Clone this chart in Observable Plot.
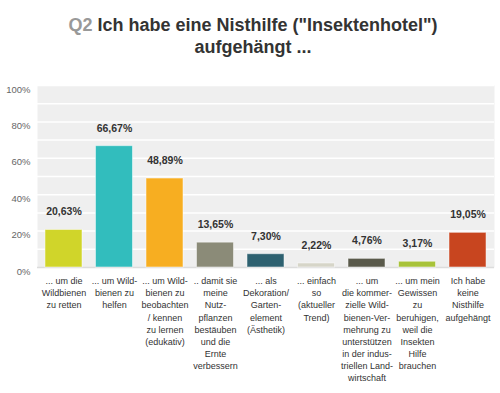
<!DOCTYPE html>
<html>
<head>
<meta charset="utf-8">
<script src="https://cdn.jsdelivr.net/npm/d3@7"></script>
<script src="https://cdn.jsdelivr.net/npm/@observablehq/plot@0.6"></script>
<style>
  body { margin: 0; background: #fff; font-family: "Liberation Sans", Arial, sans-serif; }
  #title { width: 500px; height: 75px; box-sizing: border-box; padding-top: 14px; padding-left: 6px;
    text-align: center; font-weight: bold; font-size: 18px; line-height: 22px; color: #333; }
  #title .q { color: #999; }
  svg { display: block; }
</style>
</head>
<body>
<div id="title"><span class="q">Q2</span> Ich habe eine Nisthilfe ("Insektenhotel")<br>aufgehängt ...</div>
<div id="chart"></div>
<script>
const categories = [
  "... um die\nWildbienen\nzu retten",
  "... um Wild-\nbienen zu\nhelfen",
  "... um Wild-\nbienen zu\nbeobachten\n/ kennen\nzu lernen\n(edukativ)",
  ".. damit sie\nmeine\nNutz-\npflanzen\nbestäuben\nund die\nErnte\nverbessern",
  "... als\nDekoration/\nGarten-\nelement\n(Ästhetik)",
  "... einfach\nso\n(aktueller\nTrend)",
  "... um\ndie kommer-\nzielle Wild-\nbienen-Ver-\nmehrung zu\nunterstützen\nin der indus-\ntriellen Land-\nwirtschaft",
  "... um mein\nGewissen\nzu\nberuhigen,\nweil die\nInsekten\nHilfe\nbrauchen",
  "Ich habe\nkeine\nNisthilfe\naufgehängt"
];
const values = [20.63, 66.67, 48.89, 13.65, 7.30, 2.22, 4.76, 3.17, 19.05];
const colors = ["#D0D52A", "#32BDBD", "#F7AE21", "#8B8B78", "#2E6170", "#D6D5C8", "#5A5A4B", "#A8C33A", "#C8451F"];
const yTicks = [0, 20, 40, 60, 80, 100];
const gridLines = [10, 20, 30, 40, 50, 60, 70, 80, 90, 100];

const data = categories.map((c, i) => ({ cat: c, value: values[i], color: colors[i] }));
const fmt = v => v.toFixed(2).replace(".", ",") + "%";

const chart = Plot.plot({
  width: 500,
  height: 318,
  marginTop: 10,
  marginBottom: 126,
  marginLeft: 37,
  marginRight: 6,
  style: { fontFamily: "'Liberation Sans', Arial, sans-serif", background: "white" },
  x: { domain: categories, paddingInner: 0.267, paddingOuter: 0.158, round: false, axis: null },
  y: { domain: [0, 100] },
  marks: [
    Plot.frame({ fill: "#efefef", stroke: null }),
    Plot.ruleY(gridLines, { stroke: "white", strokeWidth: 1.5 }),
    Plot.ruleY([0], { stroke: "#dcdcdc", strokeWidth: 1.5 }),
    Plot.ruleX([0], { x: () => null, frameAnchor: "left", stroke: "#dcdcdc", strokeWidth: 2 }),
    Plot.barY(data, { x: "cat", y: "value", fill: "color", stroke: "white", strokeOpacity: 0.5, strokeWidth: 1 }),
    Plot.text(data, { x: "cat", y: "value", text: d => fmt(d.value), dy: -18, fontSize: 10.5, fontWeight: "bold", fill: "#333" }),
    Plot.axisY({ ticks: yTicks, tickFormat: d => d + "%", tickSize: 0, tickPadding: 7, dy: 4, fontSize: 9.5, fill: "#666", label: null }),
    Plot.text(data, { x: "cat", text: "cat", frameAnchor: "bottom", lineAnchor: "top", dy: 8, fontSize: 9, lineHeight: 1.35, fill: "#333" })
  ]
});
document.getElementById("chart").appendChild(chart);
</script>
</body>
</html>
